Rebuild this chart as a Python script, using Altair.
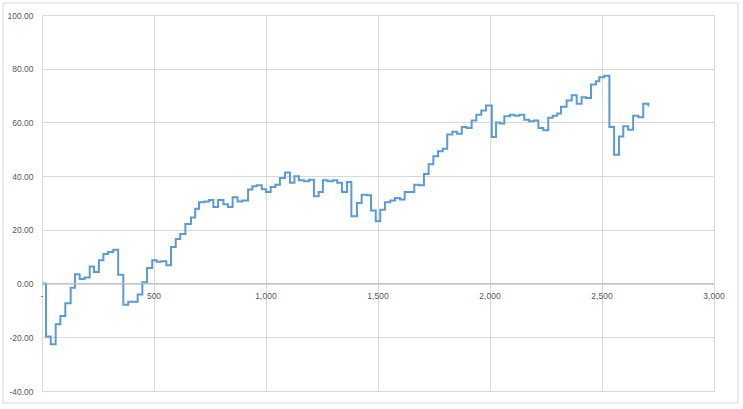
import altair as alt
import pandas as pd

# step positions (x) and level starting at each position (y)
xs = [0, 18, 39, 61, 82, 104, 128, 147, 168, 190, 213, 232, 254, 274, 295, 318,
      340, 363, 385, 427, 448, 469, 492, 512, 533, 555, 576, 597, 617, 640, 665,
      684, 701, 725, 746, 765, 786, 810, 830, 851, 873, 894, 920, 939, 958, 981,
      1000, 1021, 1042, 1062, 1085, 1107, 1127, 1147, 1170, 1192, 1214, 1235,
      1254, 1275, 1298, 1318, 1339, 1362, 1381, 1406, 1427, 1450, 1469, 1490,
      1510, 1531, 1555, 1576, 1598, 1619, 1662, 1683, 1705, 1726, 1747, 1768,
      1789, 1809, 1832, 1853, 1874, 1896, 1918, 1939, 1961, 1982, 2008, 2027,
      2045, 2064, 2089, 2109, 2131, 2153, 2174, 2196, 2216, 2238, 2260, 2280,
      2300, 2317, 2342, 2365, 2387, 2409, 2429, 2451, 2473, 2488, 2510, 2533,
      2554, 2576, 2595, 2617, 2639, 2662, 2684, 2707, 2712]
ys = [0.0, -19.7, -22.6, -15.1, -12.1, -7.3, -1.6, 3.5, 1.7, 2.3, 6.4, 4.3, 8.7,
      11.0, 11.8, 12.6, 3.3, -7.9, -6.8, -4.1, 0.5, 5.8, 8.7, 8.1, 8.3, 6.8,
      13.6, 16.6, 18.5, 22.2, 24.6, 27.9, 30.3, 30.6, 31.1, 28.5, 31.1, 29.5,
      28.5, 32.1, 30.6, 30.9, 35.0, 36.2, 36.6, 35.1, 34.1, 36.0, 36.8, 39.3,
      41.4, 37.5, 40.0, 38.5, 38.1, 38.7, 32.5, 34.1, 38.5, 38.1, 38.5, 37.5,
      34.1, 37.8, 25.1, 30.0, 33.1, 32.9, 27.2, 23.2, 27.5, 30.3, 30.9, 31.9,
      31.3, 34.1, 36.8, 36.6, 40.8, 44.4, 47.4, 49.3, 50.2, 55.5, 56.5, 55.8,
      58.3, 57.9, 60.7, 62.9, 64.4, 66.3, 54.6, 60.0, 59.6, 62.3, 62.9, 62.5,
      62.9, 61.0, 60.4, 60.7, 57.9, 57.1, 61.7, 62.5, 63.3, 65.8, 68.2, 70.1,
      67.0, 69.4, 69.1, 74.1, 75.3, 76.8, 77.4, 58.3, 48.0, 54.8, 58.6, 57.3,
      62.5, 61.9, 67.0, 66.3, 66.3]

x_ticks = [0, 500, 1000, 1500, 2000, 2500, 3000]
y_ticks = [-40, -20, 0, 20, 40, 60, 80, 100]

df = pd.DataFrame({"x": xs, "y": ys})

W, H = 672, 376
LABEL = "#595959"
GRID = "#d9d9d9"
FONT = "Liberation Sans"

xscale = alt.Scale(domain=[0, 3000], nice=False, zero=False)
yscale = alt.Scale(domain=[-40, 100], nice=False, zero=False)

xaxis = alt.Axis(values=x_ticks, grid=True, gridColor=GRID, gridWidth=1,
                 domain=False, ticks=False, labels=False, title=None)
yaxis = alt.Axis(values=y_ticks, grid=True, gridColor=GRID, gridWidth=1,
                 domain=False, ticks=False, title=None, labelColor=LABEL,
                 labelFont=FONT, labelFontSize=8.5, labelPadding=9,
                 labelExpr="replace(format(datum.value, '.2f'), '\u2212', '-')")

line = alt.Chart(df).mark_line(
    interpolate="step-after", color="#5B9BD5", strokeWidth=2
).encode(
    x=alt.X("x:Q", scale=xscale, axis=xaxis),
    y=alt.Y("y:Q", scale=yscale, axis=yaxis),
)

zero_df = pd.DataFrame({"y0": [0]})
zero = alt.Chart(zero_df).mark_rule(color="#bfbfbf", strokeWidth=1).encode(
    y=alt.Y("y0:Q", scale=yscale, axis=yaxis)
)

lab_df = pd.DataFrame({"xt": x_ticks,
                       "lab": ["-" if v == 0 else f"{v:,}" for v in x_ticks],
                       "y0": [0] * len(x_ticks)})
xlabels = alt.Chart(lab_df).mark_text(
    font=FONT, fontSize=8.5, color=LABEL, baseline="top", dy=8
).encode(
    x=alt.X("xt:Q", scale=xscale, axis=xaxis),
    y=alt.Y("y0:Q", scale=yscale, axis=yaxis),
    text="lab:N",
)

border = alt.Chart(zero_df).mark_rect(
    fill=None, stroke=GRID, strokeWidth=1, clip=False
).encode(
    x=alt.value(-39), x2=alt.value(696), y=alt.value(-12), y2=alt.value(388)
)

chart = alt.layer(line, zero, xlabels, border).properties(
    width=W, height=H,
    padding={"left": 42, "top": 15, "right": 29, "bottom": 18},
    autosize=alt.AutoSizeParams(type="none"),
    background="white",
).configure_view(stroke=None)

chart.save("out.html", embed_options={"renderer": "svg", "actions": False})
